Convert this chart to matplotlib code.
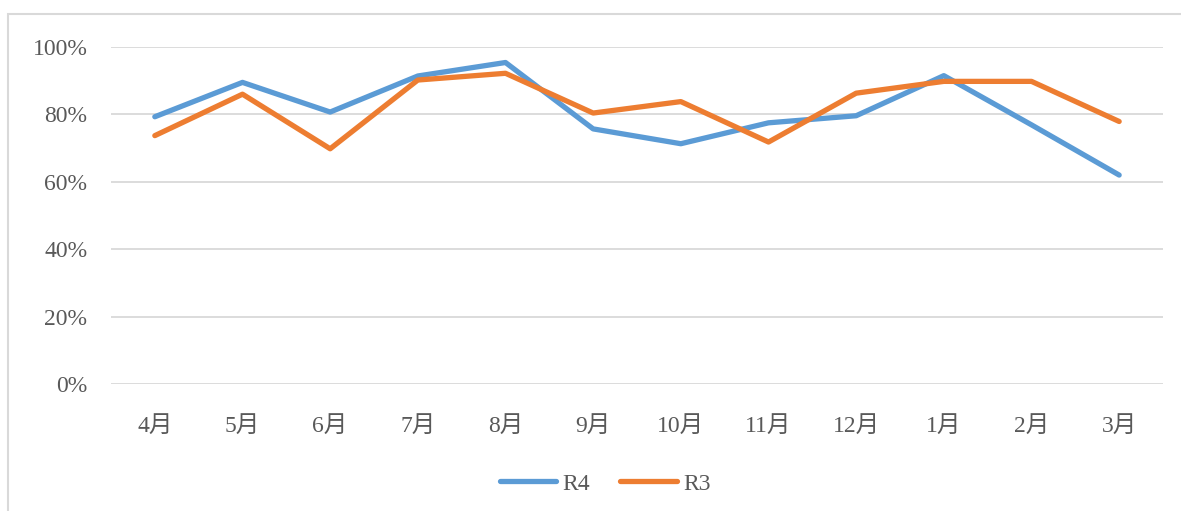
import matplotlib
matplotlib.use("Agg")
import matplotlib.pyplot as plt
from matplotlib.patches import Rectangle

plt.rcParams['font.family'] = ['Liberation Serif', 'Noto Sans CJK JP']

months = ['4月', '5月', '6月', '7月', '8月', '9月', '10月', '11月', '12月', '1月', '2月', '3月']
r4 = [0.793, 0.895, 0.807, 0.914, 0.954, 0.757, 0.713, 0.775, 0.796, 0.915, 0.769, 0.620]
r3 = [0.737, 0.860, 0.698, 0.902, 0.922, 0.804, 0.838, 0.718, 0.863, 0.898, 0.898, 0.779]

fig = plt.figure(figsize=(11.81, 5.11), dpi=100)
ax = fig.add_axes([111 / 1181, 127 / 511, 1052 / 1181, 337 / 511])

# chart frame (only top/left visible in the crop)
fig.patches.append(Rectangle((8 / 1181, -0.1), 1.2, 1.1 - 14 / 511,
                             transform=fig.transFigure, fill=False,
                             edgecolor='#D9D9D9', linewidth=1.5))

x = list(range(len(months)))
ax.plot(x, r4, color='#5B9BD5', linewidth=3.8, label='R4', solid_capstyle='round', zorder=3)
ax.plot(x, r3, color='#ED7D31', linewidth=3.8, label='R3', solid_capstyle='round', zorder=3)

ax.set_xlim(-0.5, len(months) - 0.5)
ax.set_ylim(0, 1.0)
ax.set_yticks([0, 0.2, 0.4, 0.6, 0.8, 1.0])
ax.set_yticklabels(['0%', '20%', '40%', '60%', '80%', '100%'])
ax.set_xticks(x)
ax.set_xticklabels(months)

ax.grid(axis='y', color='#D9D9D9', linewidth=1.3)
ax.set_axisbelow(True)
for s in ax.spines.values():
    s.set_visible(False)
ax.tick_params(axis='both', length=0, labelsize=17, colors='#595959')
ax.tick_params(axis='y', pad=17)
ax.tick_params(axis='x', pad=23)

leg = fig.legend(loc='center', bbox_to_anchor=(605 / 1181, 1 - 484 / 511), ncol=2,
                 frameon=False, fontsize=17, handlelength=2.4, handletextpad=0.25,
                 columnspacing=1.3)
for t in leg.get_texts():
    t.set_color('#595959')

fig.savefig('out.png', dpi=100)
